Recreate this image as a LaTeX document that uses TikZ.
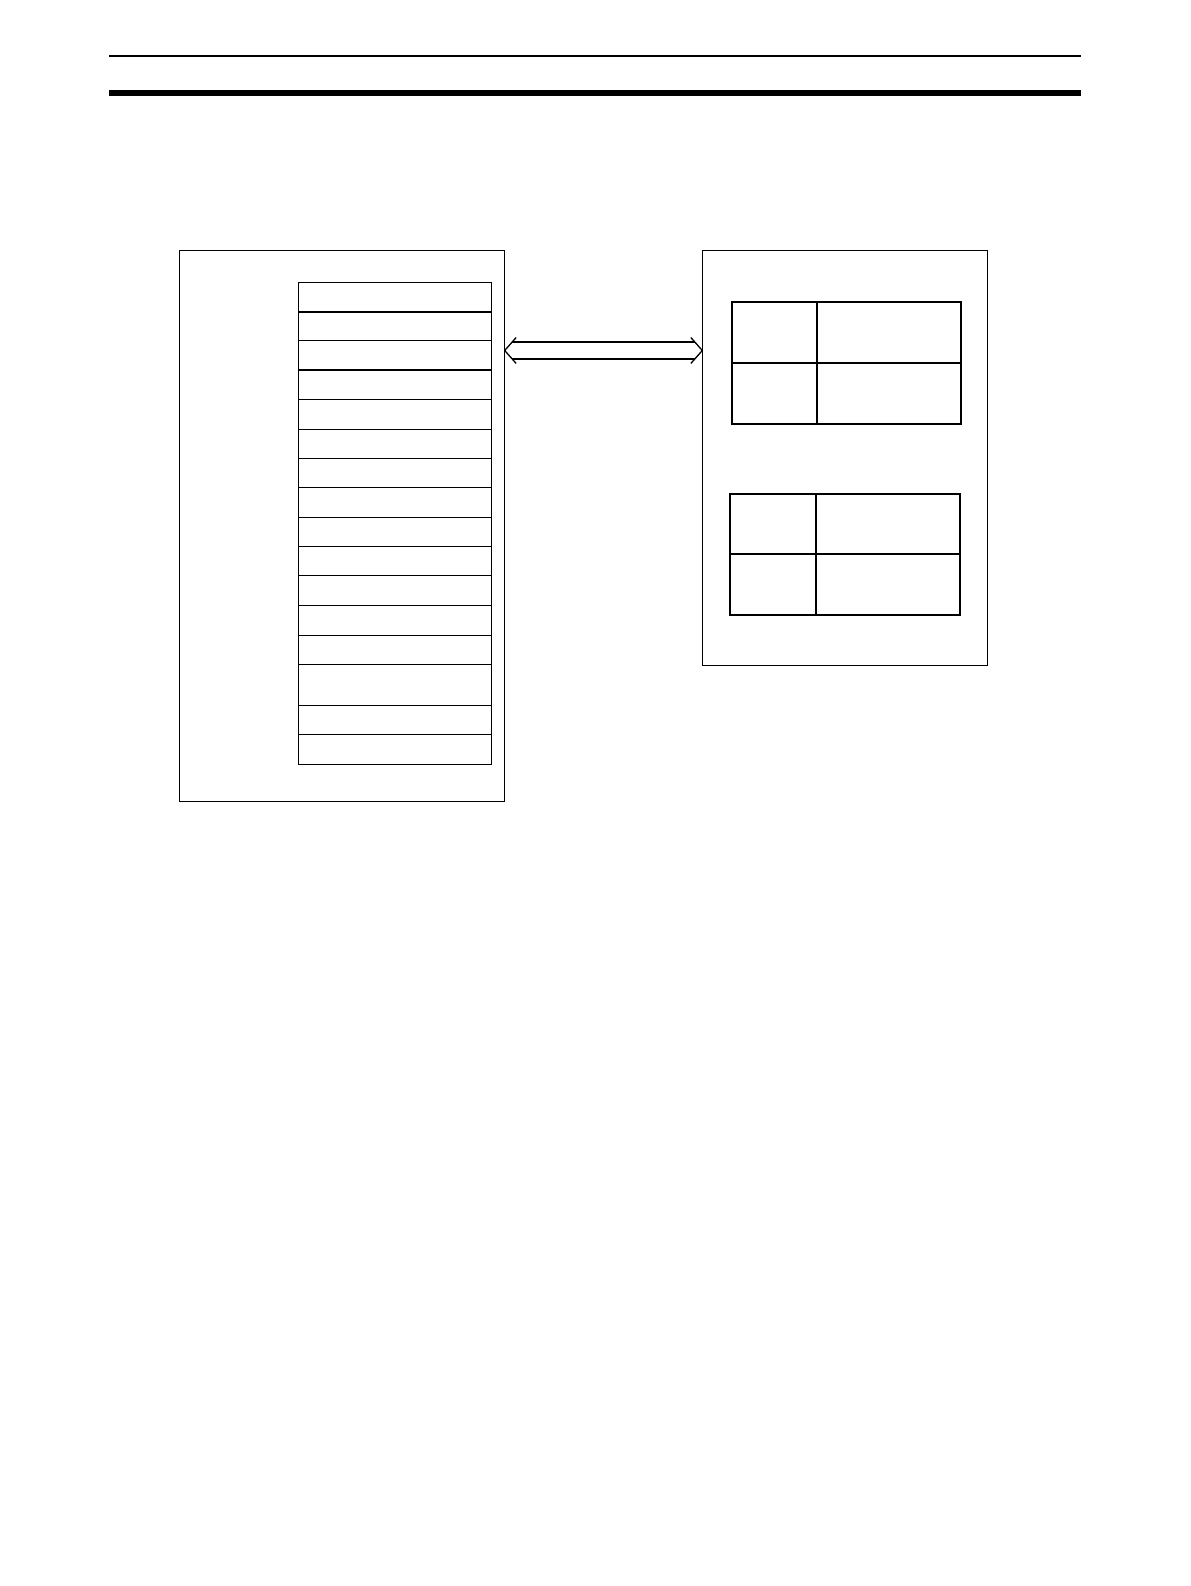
\documentclass[tikz,border=0pt]{standalone}
\usetikzlibrary{positioning}
\tikzset{
  frame/.style={draw, line width=0.65pt, inner sep=0pt, outer sep=0pt, anchor=north west},
  slot/.style={draw, line width=0.65pt, inner sep=0pt, outer sep=0pt, anchor=north west, minimum width=96.5pt},
  cell/.style={draw, line width=0.85pt, inner sep=0pt, outer sep=0pt, anchor=north west},
  link/.style={line width=0.65pt, line join=miter}
}
\begin{document}
\begin{tikzpicture}[x=0.5pt,y=-0.5pt]
\useasboundingbox (0,0) rectangle (1190,1586);
% page rules
\coordinate (R0) at (109,55.8);
\coordinate (R1) at (1081,55.8);
\draw[line width=0.85pt] (R0) -- (R1);
\fill (109,90) rectangle (1081,96);
% left unit with its area list
\node[frame, minimum width=162.7pt, minimum height=275.7pt] (host) at (179.3,250.3) {};
\foreach \i/\t/\b in {0/282.3/312, 1/312/340.3, 2/340.3/370, 3/370/399.3, 4/399.3/429.3,
  5/429.3/458.3, 6/458.3/487.3, 7/487.3/517.3, 8/517.3/546.3, 9/546.3/575.3,
  10/575.3/605.3, 11/605.3/635.3, 12/635.3/664.3, 13/664.3/705.3, 14/705.3/734.3, 15/734.3/764.3}
  \node[slot, minimum height={(\b-\t)*0.5pt}] (row\i) at (298.3,\t) {};
\draw[line width=1pt] (row0.south west) -- (row0.south east);
% right unit with two tables
\node[frame, line width=0.6pt, minimum width=142.7pt, minimum height=207.5pt] (dev) at (702.3,250.3) {};
\node[cell, minimum width=42.65pt, minimum height=30.35pt] (TA1) at (732,302.3) {};
\node[cell, minimum width=71.85pt, minimum height=30.35pt] (TA2) at (TA1.north east) {};
\node[cell, minimum width=42.65pt, minimum height=30.35pt] (TA3) at (TA1.south west) {};
\node[cell, minimum width=71.85pt, minimum height=30.35pt] (TA4) at (TA3.north east) {};
\node[cell, minimum width=42.7pt, minimum height=30.15pt] (TB1) at (730.3,493.7) {};
\node[cell, minimum width=72pt, minimum height=30.15pt] (TB2) at (TB1.north east) {};
\node[cell, minimum width=42.7pt, minimum height=30.35pt] (TB3) at (TB1.south west) {};
\node[cell, minimum width=72pt, minimum height=30.35pt] (TB4) at (TB3.north east) {};
% hollow double arrow between the units
\coordinate (tipL) at (host.east |- 0,350.5);
\coordinate (tipR) at (dev.west |- 0,350.5);
\draw[link] ([shift={(11.5,-13)}]tipL) -- (tipL) -- ([shift={(11.5,13)}]tipL);
\draw[link] ([shift={(-11.5,-13)}]tipR) -- (tipR) -- ([shift={(-11.5,13)}]tipR);
\draw[link] ([shift={(7,-8.5)}]tipL) -- ([shift={(-7,-8.5)}]tipR);
\draw[link] ([shift={(7,8.5)}]tipL) -- ([shift={(-7,8.5)}]tipR);
\end{tikzpicture}
\end{document}
